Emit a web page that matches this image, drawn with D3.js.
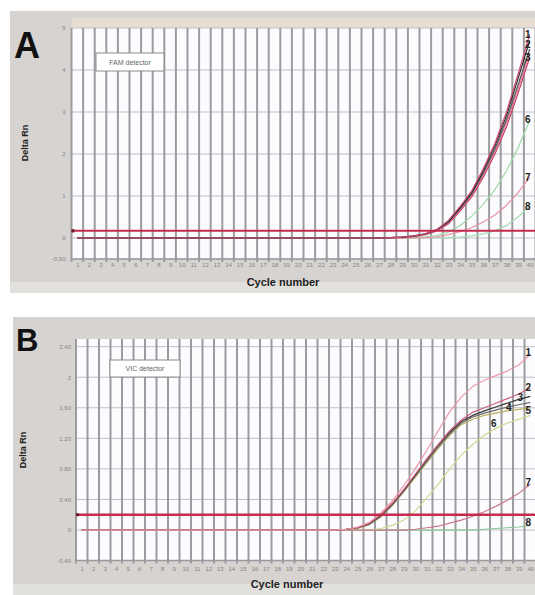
<!DOCTYPE html>
<html><head><meta charset="utf-8">
<script src="https://cdnjs.cloudflare.com/ajax/libs/d3/7.8.5/d3.min.js"></script>
<style>body{margin:0;background:#fff}svg{display:block}text{font-family:"Liberation Sans",Arial,sans-serif}</style>
</head><body>
<svg id="chart" width="535" height="595"></svg>
<script>
const cycles = d3.range(1, 41);
const xTickLabels = cycles.map(String);

// Panel A (FAM detector) values by cycle 1..40
const fam1 = [0,0,0,0,0,0,0,0,0,0,0,0,0,0,0,0,0,0,0,0,0,0,0,0,0,0,0,0.01,0.02,0.05,0.1,0.2,0.42,0.75,1.12,1.65,2.25,3.0,3.9,4.85];
const fam2 = [0,0,0,0,0,0,0,0,0,0,0,0,0,0,0,0,0,0,0,0,0,0,0,0,0,0,0,0.01,0.02,0.05,0.1,0.2,0.4,0.72,1.08,1.6,2.2,2.92,3.8,4.7];
const fam3 = [0,0,0,0,0,0,0,0,0,0,0,0,0,0,0,0,0,0,0,0,0,0,0,0,0,0,0,0.01,0.02,0.04,0.09,0.19,0.38,0.7,1.05,1.55,2.12,2.82,3.65,4.5];
const fam4 = [0,0,0,0,0,0,0,0,0,0,0,0,0,0,0,0,0,0,0,0,0,0,0,0,0,0,0,0.01,0.02,0.04,0.09,0.18,0.36,0.67,1.02,1.5,2.06,2.74,3.55,4.4];
const fam5 = [0,0,0,0,0,0,0,0,0,0,0,0,0,0,0,0,0,0,0,0,0,0,0,0,0,0,0,0,0.01,0.04,0.08,0.17,0.34,0.64,0.98,1.45,2.0,2.65,3.45,4.3];
const fam6 = [0,0,0,0,0,0,0,0,0,0,0,0,0,0,0,0,0,0,0,0,0,0,0,0,0,0,0,0,0,0.01,0.03,0.06,0.14,0.3,0.52,0.8,1.15,1.6,2.15,2.8];
const fam7 = [0,0,0,0,0,0,0,0,0,0,0,0,0,0,0,0,0,0,0,0,0,0,0,0,0,0,0,0,0,0,0.01,0.03,0.08,0.15,0.25,0.38,0.55,0.78,1.08,1.45];
const fam8 = [0,0,0,0,0,0,0,0,0,0,0,0,0,0,0,0,0,0,0,0,0,0,0,0,0,0,0,0,0,0,0,0,0.01,0.02,0.05,0.1,0.17,0.3,0.5,0.76];
const famThreshold = 0.17;
const famYTicks = [-0.5, 0, 1, 2, 3, 4, 5];
const famYTickLabels = ["-0.50","0","1","2","3","4","5"];
const famTagCycles = [40, 40, 40, 40, 40, 40];
const famTagValues = [4.85, 4.6, 4.3, 2.83, 1.45, 0.76];
const famTagText = ["1","2","3","6","7","8"];

// Panel B (VIC detector)
const vic1 = [0,0,0,0,0,0,0,0,0,0,0,0,0,0,0,0,0,0,0,0,0,0,0,0.01,0.04,0.1,0.22,0.38,0.58,0.8,1.04,1.3,1.55,1.74,1.88,1.96,2.02,2.08,2.16,2.3];
const vic2 = [0,0,0,0,0,0,0,0,0,0,0,0,0,0,0,0,0,0,0,0,0,0,0,0.01,0.03,0.09,0.2,0.35,0.53,0.73,0.93,1.12,1.3,1.44,1.54,1.6,1.66,1.72,1.78,1.86];
const vic3 = [0,0,0,0,0,0,0,0,0,0,0,0,0,0,0,0,0,0,0,0,0,0,0,0.01,0.03,0.08,0.19,0.34,0.52,0.72,0.92,1.11,1.28,1.42,1.5,1.56,1.61,1.66,1.71,1.75];
const vic4 = [0,0,0,0,0,0,0,0,0,0,0,0,0,0,0,0,0,0,0,0,0,0,0,0.01,0.03,0.08,0.18,0.33,0.51,0.71,0.9,1.09,1.26,1.4,1.48,1.53,1.57,1.61,1.64,1.67];
const vic5 = [0,0,0,0,0,0,0,0,0,0,0,0,0,0,0,0,0,0,0,0,0,0,0,0.01,0.02,0.07,0.17,0.32,0.5,0.69,0.88,1.07,1.24,1.38,1.45,1.5,1.53,1.56,1.58,1.6];
const vic6 = [0,0,0,0,0,0,0,0,0,0,0,0,0,0,0,0,0,0,0,0,0,0,0,0,0,0,0.02,0.06,0.13,0.25,0.42,0.6,0.8,0.98,1.12,1.24,1.33,1.4,1.45,1.5];
const vic7 = [0,0,0,0,0,0,0,0,0,0,0,0,0,0,0,0,0,0,0,0,0,0,0,0,0,0,0,0,0,0.01,0.03,0.05,0.09,0.13,0.18,0.24,0.31,0.39,0.48,0.6];
const vic8 = [0,0,0,0,0,0,0,0,0,0,0,0,0,0,0,0,0,0,0,0,0,0,0,0,0,0,0,0,0,0,0,0,0,0,0,0.01,0.02,0.03,0.04,0.06];
const vicThreshold = 0.2;
const vicYTicks = [-0.4, 0, 0.4, 0.8, 1.2, 1.6, 2, 2.4];
const vicYTickLabels = ["-0.40","0","0.40","0.80","1.20","1.60","2","2.40"];
const vicTagCycles = [40, 40, 39.3, 38.3, 40, 37, 40, 40];
const vicTagValues = [2.32, 1.86, 1.74, 1.6, 1.57, 1.4, 0.62, 0.1];
const vicTagText = ["1","2","3","4","5","6","7","8"];

const svg = d3.select("#chart");

function panel(cfg) {
  const g = svg.append("g");
  g.append("rect").attr("x", cfg.bg[0]).attr("y", cfg.bg[1]).attr("width", cfg.bg[2]).attr("height", cfg.bg[3]).attr("fill", "#d6d3d0");
  g.append("rect").attr("x", cfg.bg[0]).attr("y", cfg.bg[1] + cfg.bg[3] - 11).attr("width", cfg.bg[2]).attr("height", 11).attr("fill", "#e2e0dd");
  const x = d3.scaleLinear().domain([0.5, 40.5]).range(cfg.xr);
  const y = d3.scaleLinear().domain(cfg.yd).range(cfg.yr);
  const [x0, x1] = cfg.xr, [yb, yt] = cfg.yr;
  if (cfg.topStrip) g.append("rect").attr("x", x0).attr("y", yt - 10).attr("width", x1 - x0).attr("height", 10).attr("fill", "#e7ddd2");
  g.append("rect").attr("x", x0).attr("y", yt).attr("width", x1 - x0).attr("height", yb - yt).attr("fill", "#fcfcff");
  g.selectAll(".hg").data(cfg.yticks).join("line")
    .attr("x1", x0).attr("x2", x1).attr("y1", d => y(d)).attr("y2", d => y(d))
    .attr("stroke", "#c0c0c4").attr("stroke-width", 1);
  g.selectAll(".vg").data(d3.range(0, 41)).join("line")
    .attr("x1", d => x(d + 0.5)).attr("x2", d => x(d + 0.5)).attr("y1", yt).attr("y2", yb + 3)
    .attr("stroke", "#9c9ca0").attr("stroke-width", 2);
  g.append("line").attr("x1", x0).attr("x2", x1).attr("y1", yb).attr("y2", yb).attr("stroke", "#9a9a9e").attr("stroke-width", 1.5);
  const ya = d3.axisLeft(y).tickValues(cfg.yticks).tickFormat((d, i) => cfg.ylabels[i]).tickSize(0).tickPadding(cfg.ypad);
  const yg = g.append("g").attr("transform", `translate(${x0},0)`).call(ya);
  yg.select(".domain").remove();
  yg.selectAll("text").attr("fill", "#858585").style("font-size", "6px").style("font-family", "Liberation Sans, Arial, sans-serif");
  const xa = d3.axisBottom(x).tickValues(cycles).tickFormat((d, i) => xTickLabels[i]).tickSize(0).tickPadding(cfg.xpad);
  const xg = g.append("g").attr("transform", `translate(0,${yb})`).call(xa);
  xg.select(".domain").remove();
  xg.selectAll("text").attr("fill", "#858585").style("font-size", "6px").style("font-family", "Liberation Sans, Arial, sans-serif");
  const line = d3.line().x((d, i) => x(cycles[i])).y(d => y(d));
  cfg.series.forEach((s, i) => {
    g.append("path").datum(s).attr("d", line).attr("fill", "none").attr("stroke", cfg.colors[i]).attr("stroke-width", 1.2);
  });
  g.append("line").attr("x1", x0).attr("x2", x1).attr("y1", y(cfg.threshold)).attr("y2", y(cfg.threshold))
    .attr("stroke", "#c42a4c").attr("stroke-width", cfg.thw);
  g.append("circle").attr("cx", x0 + 1.5).attr("cy", y(cfg.threshold)).attr("r", 1.8).attr("fill", "#6a2030");
  g.selectAll(".tag").data(cfg.tagText).join("text")
    .attr("x", (d, i) => x(cfg.tagCycles[i]) - 2).attr("y", (d, i) => y(cfg.tagValues[i]) + 3.5)
    .attr("text-anchor", "middle").style("font-size", "10px").style("font-weight", "bold").attr("fill", "#222").text(d => d);
  g.append("rect").attr("x", cfg.box[0]).attr("y", cfg.box[1]).attr("width", cfg.box[2]).attr("height", cfg.box[3])
    .attr("fill", "#fff").attr("stroke", "#8a8a8a").attr("stroke-width", 1);
  g.append("text").attr("x", cfg.box[0] + cfg.box[2] / 2).attr("y", cfg.box[1] + cfg.box[3] / 2 + 2.5)
    .attr("text-anchor", "middle").style("font-size", "7px").attr("fill", "#666").text(cfg.boxText);
  g.append("text").attr("x", cfg.xt[0]).attr("y", cfg.xt[1]).attr("text-anchor", "middle")
    .style("font-size", "11px").style("font-weight", "bold").attr("fill", "#222").text("Cycle number");
  g.append("text").attr("transform", `translate(${cfg.yt[0]},${cfg.yt[1]}) rotate(-90)`).attr("text-anchor", "middle")
    .style("font-size", "9px").style("font-weight", "bold").attr("fill", "#222").text("Delta Rn");
  g.append("text").attr("x", cfg.letter[0]).attr("y", cfg.letter[1]).style("font-size", cfg.letter[2] + "px")
    .style("font-weight", "bold").attr("fill", "#111").text(cfg.letter[3]);
}

panel({
  bg: [10, 11, 525, 282], xr: [71.5, 535.5], yd: [-0.5, 5], yr: [259, 28], topStrip: true,
  yticks: famYTicks, ylabels: famYTickLabels, ypad: 6, xpad: 4, thw: 2,
  series: [fam8, fam6, fam7, fam5, fam4, fam3, fam2, fam1],
  colors: ["#a6dcb2", "#9fd8a6", "#e890aa", "#c83a5c", "#e07a98", "#555555", "#2a2a2a", "#d04a74"],
  threshold: famThreshold, tagCycles: famTagCycles, tagValues: famTagValues, tagText: famTagText,
  box: [96, 53, 68, 18], boxText: "FAM detector",
  xt: [283, 286], yt: [28, 143], letter: [14, 58, 36, "A"]
});

panel({
  bg: [13, 317, 522, 278], xr: [76, 536], yd: [-0.4, 2.5], yr: [560.6, 339], topStrip: false,
  yticks: vicYTicks, ylabels: vicYTickLabels, ypad: 5, xpad: 6, thw: 2.6,
  series: [vic8, vic6, vic7, vic5, vic4, vic3, vic2, vic1],
  colors: ["#86c896", "#cfd890", "#c8788c", "#b8b060", "#6a6a6a", "#3a3a3a", "#d06080", "#ec98aa"],
  threshold: vicThreshold, tagCycles: vicTagCycles, tagValues: vicTagValues, tagText: vicTagText,
  box: [110, 360, 70, 17], boxText: "VIC detector",
  xt: [287, 588], yt: [26, 450], letter: [16, 351, 31, "B"]
});
</script>
</body></html>
